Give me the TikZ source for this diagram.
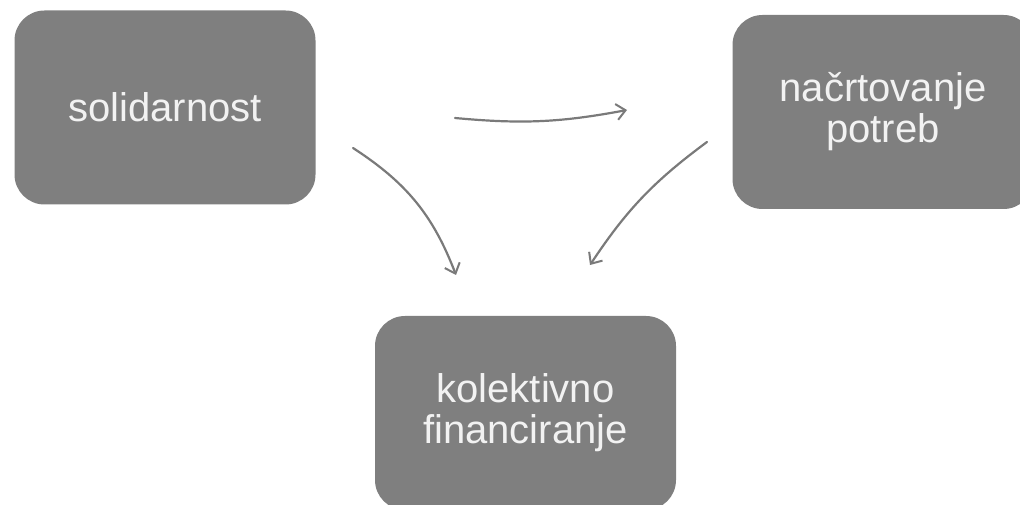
\documentclass[tikz,border=0pt]{standalone}
\usepackage{fontspec}
\setmainfont{Liberation Sans}
\usetikzlibrary{arrows.meta}
\definecolor{boxgray}{HTML}{7F7F7F}
\definecolor{arrowgray}{HTML}{7A7A7A}
\begin{document}
\begin{tikzpicture}
        [x=1pt, y=1pt,
        box/.style={rectangle, rounded corners=30pt, fill=boxgray,
          minimum width=301pt, minimum height=194pt, align=center,
          text=white!95!black, font=\fontsize{40}{41}\selectfont},
        flow/.style={draw=arrowgray, line width=2.2pt, line cap=round,
          -{Straight Barb[length=9pt,width=16pt,line width=2pt]}},
        ]
        \useasboundingbox (0,0) rectangle (1020,505);
        \clip (0,0) rectangle (1020,505);
        \node[box] (sol) at (165,397.5) {solidarnost};
        \node[box] (plan) at (883,393) {načrtovanje\\potreb};
        \node[box] (fin) at (525.5,92) {kolektivno\\financiranje};
        \coordinate (top1) at (455,387);
        \coordinate (top2) at (627,395);
        \coordinate (left1) at (353,357);
        \coordinate (left2) at (456,230);
        \coordinate (right1) at (707,363);
        \coordinate (right2) at (590,240);
        \draw[flow] (top1) to[bend right=8] (top2);
        \draw[flow] (left1) to[bend left=18] (left2);
        \draw[flow] (right1) to[bend right=10] (right2);
        \end{tikzpicture}
\end{document}
